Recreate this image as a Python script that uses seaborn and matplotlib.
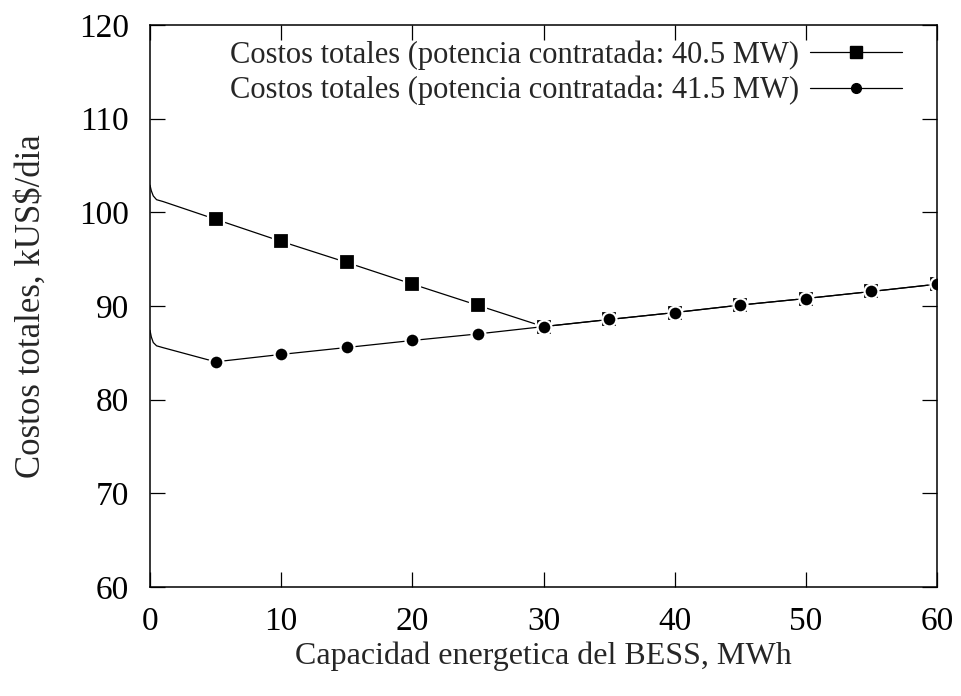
import numpy as np
import pandas as pd
import matplotlib
matplotlib.use("Agg")
import matplotlib.pyplot as plt
import seaborn as sns
from matplotlib.lines import Line2D

# BESS energy capacity (MWh) and total daily cost (kUS$/dia) for two contracted powers
capacidad = [0, 0.1, 0.25, 0.5, 1, 5, 10, 15, 20, 25, 30, 35, 40, 45, 50, 55, 60]
costo_405 = [102.9, 102.3, 101.75, 101.35, 101.15, 99.26, 96.9, 94.65, 92.34, 90.07,
             87.8, 88.56, 89.3, 90.1, 90.8, 91.55, 92.33]
costo_415 = [87.4, 86.7, 86.1, 85.75, 85.55, 84.04, 84.83, 85.57, 86.32, 87.02,
             87.8, 88.56, 89.3, 90.1, 90.8, 91.55, 92.33]
etiquetas = ["Costos totales (potencia contratada: 40.5 MW)",
             "Costos totales (potencia contratada: 41.5 MW)"]
x_ticks = [0, 10, 20, 30, 40, 50, 60]
y_ticks = [60, 70, 80, 90, 100, 110, 120]

sns.set_theme(style="ticks")
plt.rcParams["font.family"] = ["Liberation Serif", "DejaVu Serif"]

fig = plt.figure(figsize=(9.62, 6.96), dpi=100)
ax = fig.add_axes([150 / 962, 1 - 587 / 696, (937 - 150) / 962, (587 - 25) / 696])

df = pd.DataFrame({"capacidad": capacidad, "c405": costo_405, "c415": costo_415})
# markers only at the 5 MWh steps
marca = [i for i, c in enumerate(capacidad) if c >= 5 and c % 5 == 0]

estilo = dict(color="black", linewidth=0.9, markevery=marca, markeredgecolor="white",
              markeredgewidth=1.6, errorbar=None, legend=False)
sns.lineplot(data=df, x="capacidad", y="c405", ax=ax, marker="s", markersize=11, **estilo)
sns.lineplot(data=df, x="capacidad", y="c415", ax=ax, marker="o", markersize=10, **estilo)

ax.set_xlim(0, 60)
ax.set_ylim(60, 120)
ax.set_xticks(x_ticks)
ax.set_yticks(y_ticks)
ax.tick_params(direction="in", length=11, width=0.9, labelsize=24,
               top=True, right=True, colors="black")
ax.tick_params(axis="x", pad=14)
ax.tick_params(axis="y", pad=15)
for s in ax.spines.values():
    s.set_linewidth(1.1)
    s.set_color("black")
    s.set_visible(True)

ax.set_xlabel("Capacidad energetica del BESS, MWh", fontsize=23, labelpad=3)
ax.set_ylabel("Costos totales, kUS$/dia", fontsize=25)
ax.yaxis.set_label_coords((48 - 150) / 787, 0.5)

handles = [
    Line2D([], [], color="black", linewidth=0.9, marker="s", markersize=8.5),
    Line2D([], [], color="black", linewidth=0.9, marker="o", markersize=7),
]
ax.legend(handles, etiquetas, loc="upper right", bbox_to_anchor=(902 / 962, 1 - 40 / 696),
          bbox_transform=fig.transFigure, frameon=False, markerfirst=False,
          fontsize=22, handlelength=3.0, handletextpad=0.36, labelspacing=0.21,
          borderpad=0, borderaxespad=0)

fig.savefig("out.png", dpi=100)
